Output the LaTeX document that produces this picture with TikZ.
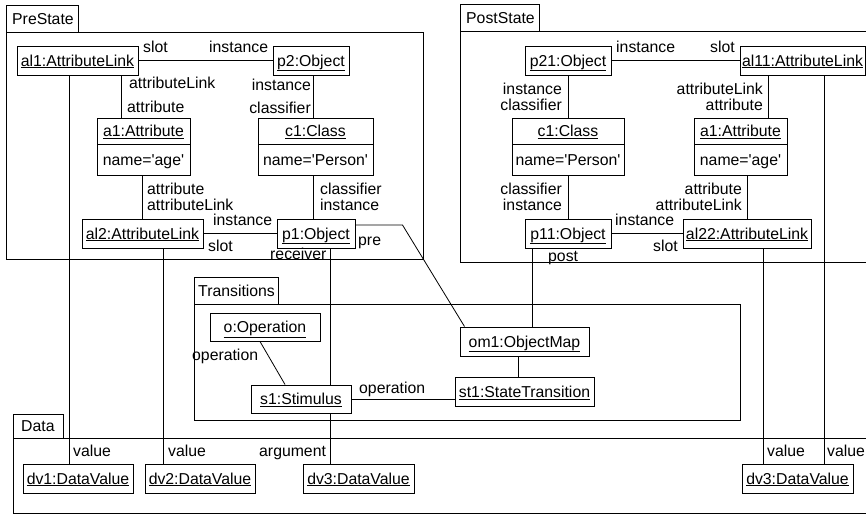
\documentclass[tikz,border=0pt]{standalone}
\usepackage{fontspec}
\setmainfont{Liberation Sans}[Ligatures=TeXOff]
\begin{document}
\begin{tikzpicture}[x=1pt,y=-1pt,
  every node/.style={font=\fontsize{15.8}{16}\selectfont},
  frame/.style={draw, line width=0.9pt},
  obj/.style={draw, fill=white, line width=1pt, inner sep=0pt, minimum height=29pt, text height=11pt, text depth=0pt},
  part/.style={draw, fill=white, line width=1pt, inner sep=0pt, text height=11pt, text depth=0pt},
  lbl/.style={inner sep=0pt, text height=11pt, text depth=0pt},
  link/.style={line width=0.8pt}]
\useasboundingbox (0,0) rectangle (866,514);
\begin{scope}
\clip (0,0) rectangle (866,514);
% frames
\draw[frame] (6,5) rectangle (78,32);
\draw[frame] (6,32) rectangle (423,259);
\node[lbl, anchor=west] (tPre) at (12,18.5) {PreState};
\draw[frame] (460,4) rectangle (539,31);
\draw[frame] (460,31) rectangle (880,262);
\node[lbl, anchor=west] (tPost) at (466,17.5) {PostState};
\draw[frame] (194,277) rectangle (278,304);
\draw[frame] (194,304) rectangle (740,420);
\node[lbl, anchor=west] (tTr) at (198,290.5) {Transitions};
\draw[frame] (13,414) rectangle (63,438);
\draw[frame] (13,438) rectangle (880,513);
\node[lbl, anchor=west] (tData) at (21,426) {Data};

% PreState
\node[obj, minimum width=121pt] (al1) at (77.5,60.5) {\underline{al1:AttributeLink}};
\node[obj, minimum width=76pt] (p2) at (311,60.5) {\underline{p2:Object}};
\node[part, minimum width=93pt, minimum height=26pt] (a1t) at (143.5,131) {\underline{a1:Attribute}};
\node[part, minimum width=93pt, minimum height=31pt] (a1b) at (143.5,159.5) {name='age'};
\node[part, minimum width=115pt, minimum height=26pt] (c1t) at (315.5,131) {\underline{c1:Class}};
\node[part, minimum width=115pt, minimum height=31pt] (c1b) at (315.5,159.5) {name='Person'};
\node[obj, minimum width=121pt] (al2) at (142.5,233.5) {\underline{al2:AttributeLink}};
\node[obj, minimum width=78pt] (p1) at (316,233.5) {\underline{p1:Object}};

% PostState
\node[obj, minimum width=86pt] (p21) at (568,60.5) {\underline{p21:Object}};
\node[obj, minimum width=125pt] (al11) at (802.5,60.5) {\underline{al11:AttributeLink}};
\node[part, minimum width=112pt, minimum height=26pt] (c1pt) at (568,131) {\underline{c1:Class}};
\node[part, minimum width=112pt, minimum height=31pt] (c1pb) at (568,159.5) {name='Person'};
\node[part, minimum width=93pt, minimum height=26pt] (a1pt) at (740.5,131) {\underline{a1:Attribute}};
\node[part, minimum width=93pt, minimum height=31pt] (a1pb) at (740.5,159.5) {name='age'};
\node[obj, minimum width=86pt] (p11) at (568,233.5) {\underline{p11:Object}};
\node[obj, minimum width=128pt] (al22) at (747,233.5) {\underline{al22:AttributeLink}};

% Transitions
\node[obj, minimum width=110pt, minimum height=28pt] (op) at (265,327) {\underline{o:Operation}};
\node[obj, minimum width=100pt, minimum height=28pt] (s1) at (301,399) {\underline{s1:Stimulus}};
\node[obj, minimum width=129pt] (om1) at (524.5,341.5) {\underline{om1:ObjectMap}};
\node[obj, minimum width=139pt] (st1) at (524.5,392) {\underline{st1:StateTransition}};

% Data
\node[obj, minimum width=110pt] (dv1) at (78,478.5) {\underline{dv1:DataValue}};
\node[obj, minimum width=110pt] (dv2) at (200,478.5) {\underline{dv2:DataValue}};
\node[obj, minimum width=111pt] (dv3a) at (358.5,478.5) {\underline{dv3:DataValue}};
\node[obj, minimum width=111pt] (dv3b) at (797.5,478.5) {\underline{dv3:DataValue}};

% links PreState
\draw[link] (al1.east) -- (p2.west);
\draw[link] ([xshift=-22.5pt]a1t.north) -- ([xshift=-22.5pt]a1t.north |- al1.south);
\draw[link] ([xshift=2pt]p2.south) -- ([xshift=2pt]p2.south |- c1t.north);
\draw[link] (al2.north) -- (al2.north |- a1b.south);
\draw[link] ([xshift=-3pt]p1.north) -- ([xshift=-3pt]p1.north |- c1b.south);
\draw[link] (al2.east) -- (p1.west);
% links PostState
\draw[link] (p21.east) -- (al11.west);
\draw[link] (p21.south) -- (c1pt.north);
\draw[link] ([xshift=-34pt]al11.south) -- ([xshift=-34pt]al11.south |- a1pt.north);
\draw[link] (c1pb.south) -- (p11.north);
\draw[link] (al22.north) -- (al22.north |- a1pb.south);
\draw[link] (p11.east) -- (al22.west);
% cross links
\draw[link] ([yshift=8.5pt]p1.east) -- ++(47,0) -- ([xshift=5pt]om1.north west);
\draw[link] ([xshift=-36pt]p11.south) -- ([xshift=-36pt]p11.south |- om1.north);
\draw[link] ([xshift=14pt]p1.south) -- ([xshift=14pt]p1.south |- s1.north);
\draw[link] ([xshift=29pt]s1.south) -- ([xshift=29pt]s1.south |- dv3a.north);
\draw[link] ([xshift=-5pt]op.south) -- ([xshift=-16pt]s1.north);
\draw[link] (s1.east) -- (s1.east -| st1.west);
\draw[link] ([xshift=-6.5pt]om1.south) -- ([xshift=-6.5pt]om1.south |- st1.north);
\draw[link] ([xshift=-8.5pt]al1.south) -- ([xshift=-8.5pt]al1.south |- dv1.north);
\draw[link] ([xshift=20.5pt]al2.south) -- ([xshift=20.5pt]al2.south |- dv2.north);
\draw[link] ([xshift=16pt]al22.south) -- ([xshift=16pt]al22.south |- dv3b.north);
\draw[link] ([xshift=21.5pt]al11.south) -- ([xshift=21.5pt]al11.south |- dv3b.north);

% labels PreState
\node[lbl, anchor=west] (l1) at (143,47) {slot};
\node[lbl, anchor=west] (l2) at (209,47) {instance};
\node[lbl, anchor=west] (l3) at (129,83) {attributeLink};
\node[lbl, anchor=west] (l4) at (127,107) {attribute};
\node[lbl, anchor=east] (l5) at (311,85) {instance};
\node[lbl, anchor=east] (l6) at (311,108) {classifier};
\node[lbl, anchor=west] (l7) at (147,189) {attribute};
\node[lbl, anchor=west] (l8) at (147,205) {attributeLink};
\node[lbl, anchor=west] (l9) at (320,189) {classifier};
\node[lbl, anchor=west] (l10) at (320,205) {instance};
\node[lbl, anchor=west] (l11) at (213,220) {instance};
\node[lbl, anchor=west] (l12) at (208,246) {slot};
\node[lbl, anchor=west] (l13) at (358,240) {pre};
\node[lbl, anchor=west] (l14) at (270,254) {receiver};
% labels PostState
\node[lbl, anchor=west] (m1) at (616,47) {instance};
\node[lbl, anchor=west] (m2) at (710,47) {slot};
\node[lbl, anchor=east] (m3) at (562,89) {instance};
\node[lbl, anchor=east] (m4) at (562,105) {classifier};
\node[lbl, anchor=east] (m5) at (763,89) {attributeLink};
\node[lbl, anchor=east] (m6) at (763,105) {attribute};
\node[lbl, anchor=east] (m7) at (562,189) {classifier};
\node[lbl, anchor=east] (m8) at (562,205) {instance};
\node[lbl, anchor=east] (m9) at (742,189) {attribute};
\node[lbl, anchor=east] (m10) at (742,205) {attributeLink};
\node[lbl, anchor=west] (m11) at (615,220) {instance};
\node[lbl, anchor=west] (m12) at (653,246) {slot};
\node[lbl, anchor=west] (m13) at (548,256) {post};
% labels Transitions
\node[lbl, anchor=west] (n1) at (192,355) {operation};
\node[lbl, anchor=west] (n2) at (359,388) {operation};
% labels Data
\node[lbl, anchor=west] (d1) at (73,451) {value};
\node[lbl, anchor=west] (d2) at (168,451) {value};
\node[lbl, anchor=west] (d3) at (259,451) {argument};
\node[lbl, anchor=west] (d4) at (767,451) {value};
\node[lbl, anchor=west] (d5) at (827,451) {value};
\end{scope}
\end{tikzpicture}
\end{document}
